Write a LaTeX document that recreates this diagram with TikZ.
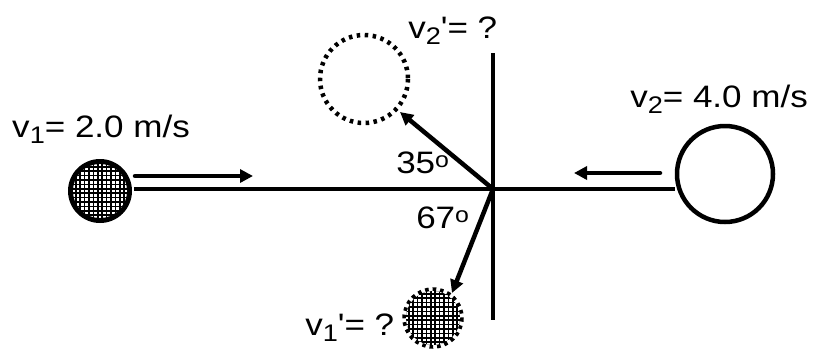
\documentclass[tikz,border=0pt]{standalone}
\usepackage{fontspec}
\setmainfont{Liberation Sans}
\usetikzlibrary{arrows.meta}
\newcommand\sbs[1]{\raisebox{-6pt}{\fontsize{24}{24}\selectfont #1}}
\newcommand\dg{\raisebox{6pt}{\fontsize{22}{22}\selectfont o}}
\newcommand\pr{\textquotesingle}
\newcommand\myhatch[3]{%
  \begin{scope}
    \clip (#1,#2) circle[radius=#3];
    \fill[black] (#1,#2) circle[radius=#3];
    \foreach \i in {-8,...,8}{\foreach \j in {-8,...,8}{%
      \fill[white] ({#1+\i*4.4-1.4},{#2+\j*4.4-1.4}) rectangle ++(2.8,2.8);}}
  \end{scope}}
\begin{document}
\begin{tikzpicture}[x=1pt,y=-1pt,line width=4.5pt,
  lbl/.style={inner sep=0pt,anchor=base west,font=\fontsize{31}{31}\selectfont},
  arr/.style={-{Triangle[length=13pt,width=13pt]},line width=4.5pt},
  ring/.style={circle,draw,line width=4.5pt,inner sep=0pt}]
\useasboundingbox (0,0) rectangle (819,349);
% nodes
\node[ring,minimum size=96pt] (b2) at (725,174) {};
\node[circle,fill=black,inner sep=0pt,minimum size=64pt] (b1) at (100,191) {};
\myhatch{100}{191}{27}
\node[circle,inner sep=0pt,minimum size=56pt] (b3) at (433,318) {};
\draw[line width=5.5pt,dash pattern=on 3.5pt off 3.8pt] (b3.center) circle[radius=28];
\myhatch{433}{318}{27}
\node[circle,inner sep=0pt,minimum size=88pt] (b4) at (364,79) {};
\draw[line width=4.5pt,dash pattern=on 3.5pt off 4.5pt] (b4.center) circle[radius=44];
\coordinate (O) at (493,189);
\coordinate (vt) at (493,53);
\coordinate (vb) at (493,320);
\coordinate (t2) at (400,112);
\coordinate (t1) at (452,293);
\coordinate (a1s) at (135,176);
\coordinate (a1e) at (253,176);
\coordinate (a2s) at (660,173);
\coordinate (a2e) at (574,173);
% lines
\draw (O -| b1.east) -- (O -| b2.west);
\draw (vt) -- (vb);
\draw[arr] (O) -- (t2);
\draw[arr] (O) -- (t1);
\draw[arr,line cap=round] (a1s) -- (a1e);
\draw[arr,line cap=round] (a2s) -- (a2e);
% labels
\node[lbl] (L1) at (10,137) {\scalebox{1.13}[1]{v\sbs{1}= 2.0 m/s}};
\node[lbl] (L2) at (628,107) {\scalebox{1.13}[1]{v\sbs{2}= 4.0 m/s}};
\node[lbl] (L3) at (406,38) {\scalebox{1.13}[1]{v\sbs{2}\pr= ?}};
\node[lbl] (L4) at (394,173) {\scalebox{1.13}[1]{35\dg}};
\node[lbl] (L5) at (414,228) {\scalebox{1.13}[1]{67\dg}};
\node[lbl] (L6) at (303,335) {\scalebox{1.13}[1]{v\sbs{1}\pr= ?}};
\end{tikzpicture}
\end{document}
